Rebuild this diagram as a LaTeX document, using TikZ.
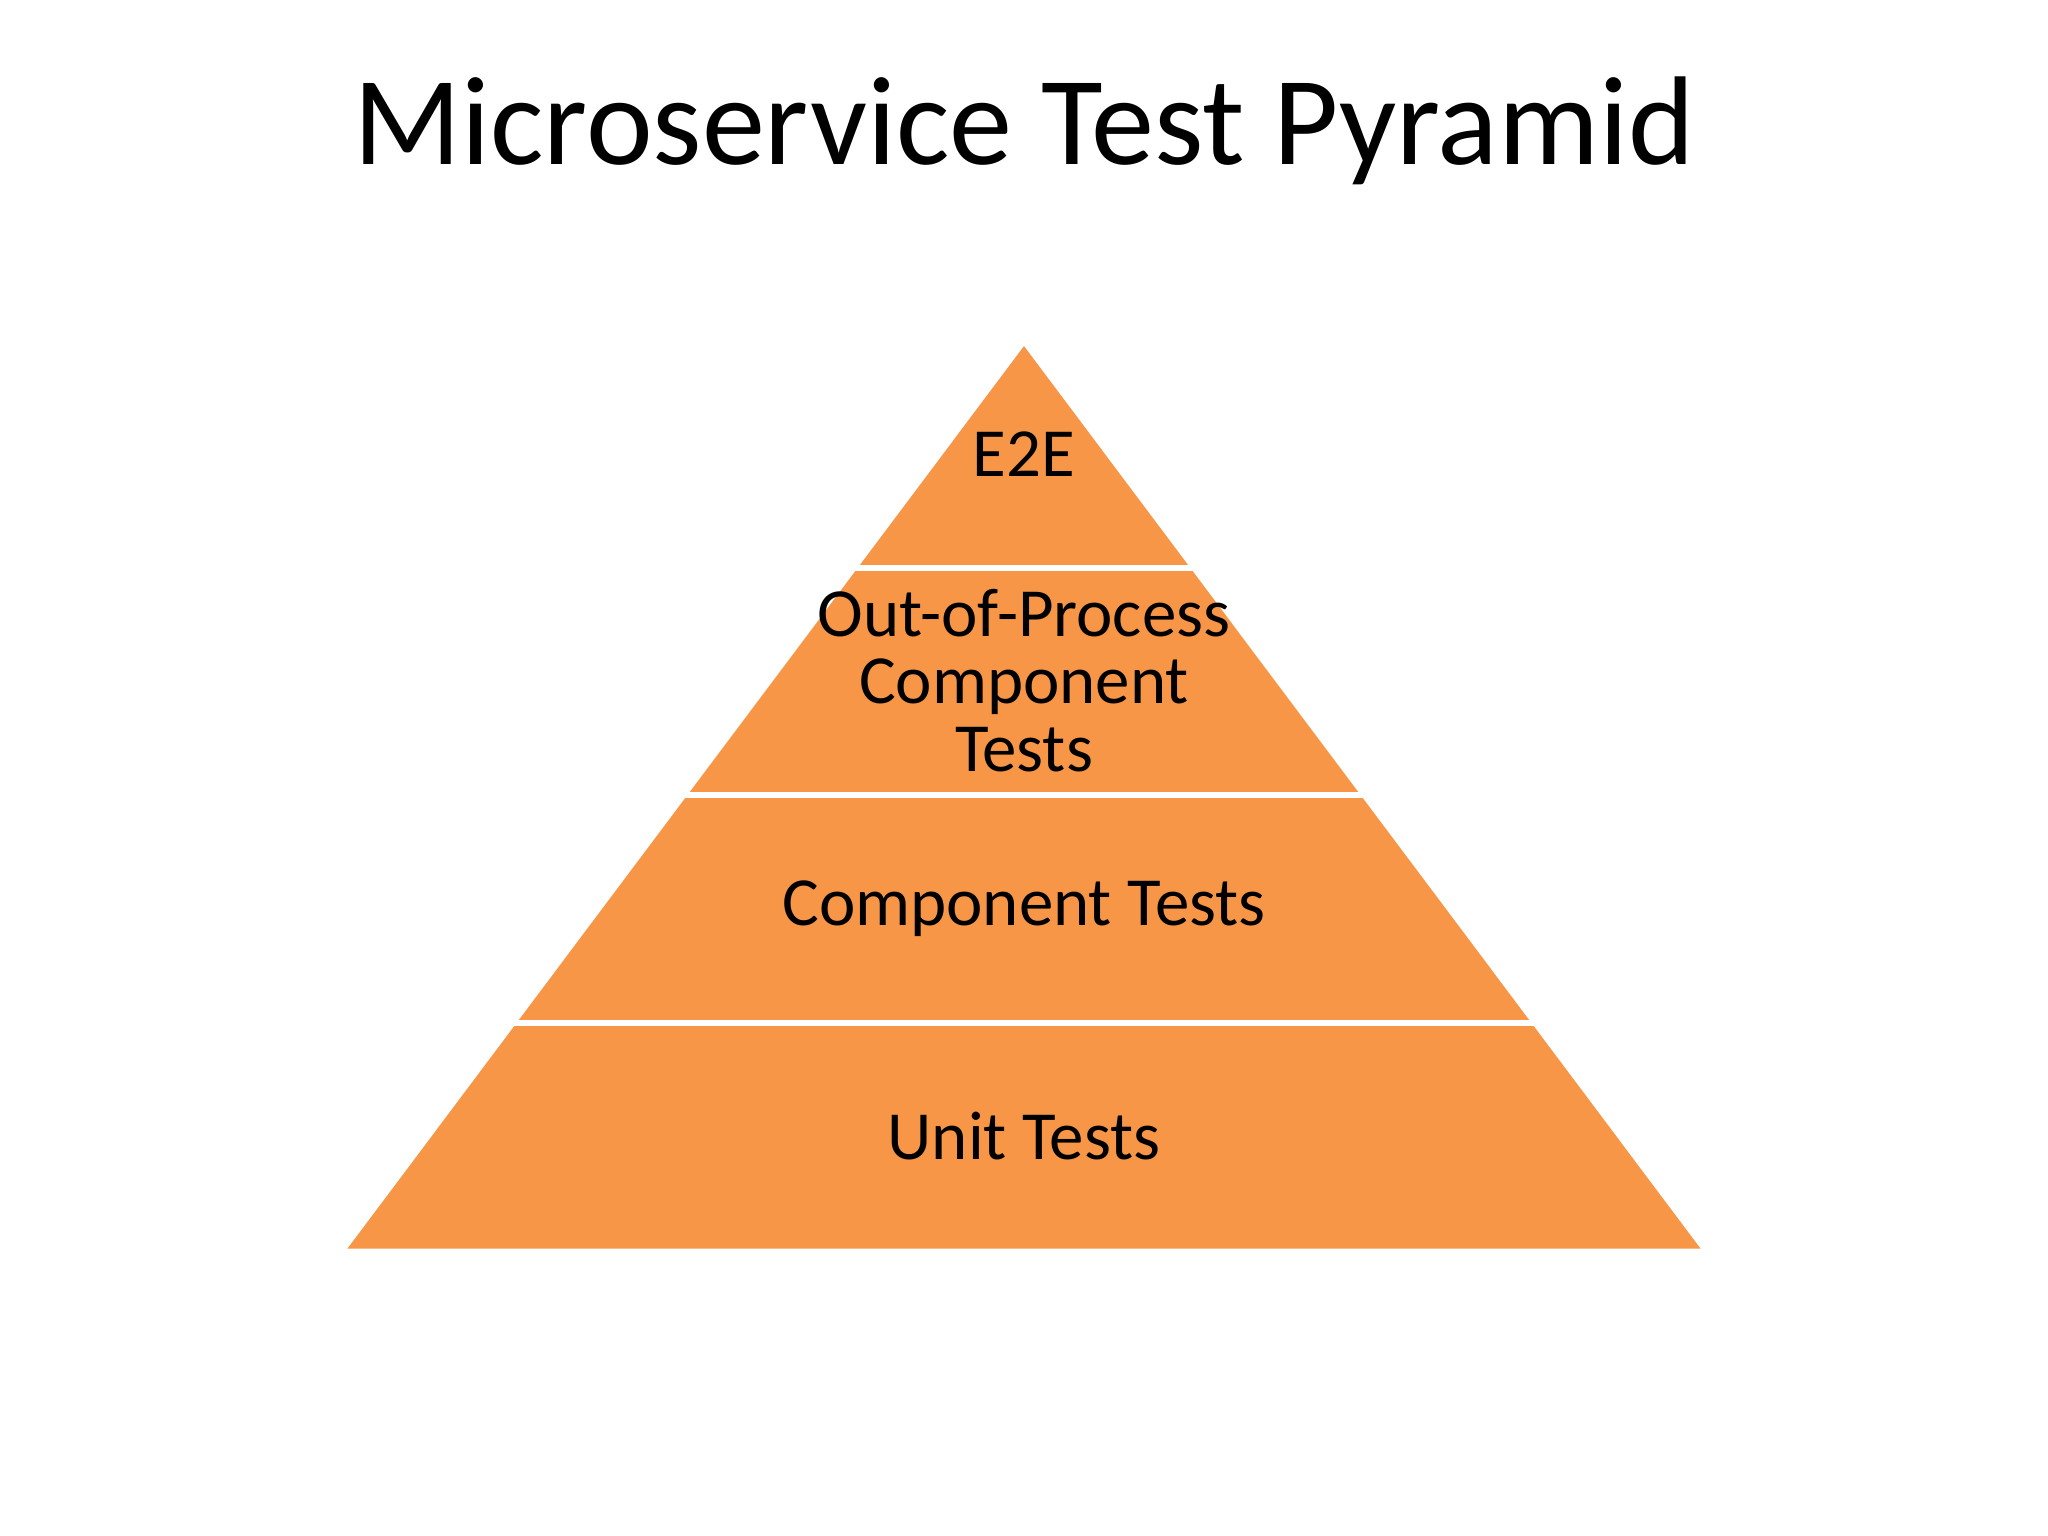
\documentclass[tikz,border=0pt]{standalone}
\usepackage{fontspec}
\setmainfont{Carlito}
\definecolor{pyr}{HTML}{F79646}
\begin{document}
\begin{tikzpicture}[x=0.01cm,y=-0.01cm,
  lbl/.style={font=\fontsize{15pt}{14.7pt}\selectfont, align=center, text=black},
  sep/.style={white, line width=0.045cm}]
\useasboundingbox[fill=white] (0,0) rectangle (1568,1176);
\node[font=\fontsize{27.5pt}{33pt}\selectfont] (title) at (784,100) {Microservice Test Pyramid};
\coordinate (apex) at (784,265);
\coordinate (bl) at (266,956);
\coordinate (br) at (1302,956);
\fill[pyr] (apex) -- (bl) -- (br) -- cycle;
\draw[sep] (500,435) -- (1100,435);
\draw[sep] (400,609) -- (1200,609);
\draw[sep] (300,783) -- (1250,783);
\node[lbl] (e2e) at (784,348) {E2E};
\node[lbl] (oop) at (784,521) {Out-of-Process\\Component\\Tests};
\node[lbl] (comp) at (784,696) {Component Tests};
\node[lbl] (unit) at (784,870) {Unit Tests};
\end{tikzpicture}
\end{document}
